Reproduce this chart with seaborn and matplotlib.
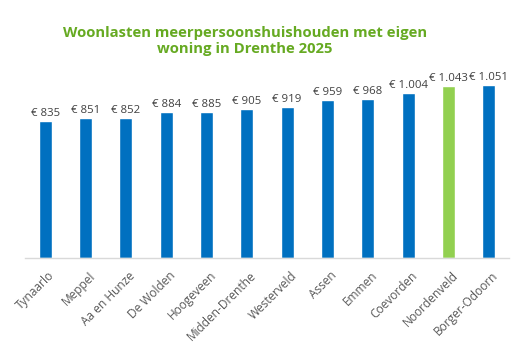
import matplotlib
matplotlib.use("Agg")
import matplotlib.pyplot as plt
import seaborn as sns
import pandas as pd
from matplotlib.transforms import ScaledTranslation

gemeenten = ["Tynaarlo", "Meppel", "Aa en Hunze", "De Wolden", "Hoogeveen",
             "Midden-Drenthe", "Westerveld", "Assen", "Emmen", "Coevorden",
             "Noordenveld", "Borger-Odoorn"]
woonlasten = [835, 851, 852, 884, 885, 905, 919, 959, 968, 1004, 1043, 1051]
highlight = "Noordenveld"

blue = "#0070C0"
green = "#92D050"
colors = [green if g == highlight else blue for g in gemeenten]

df = pd.DataFrame({"gemeente": gemeenten, "woonlasten": woonlasten})

sns.set_style("white")
plt.rcParams['font.family'] = ['Open Sans', 'DejaVu Sans']

fig = plt.figure(figsize=(5.23, 3.47), dpi=100)
ax = fig.add_axes([25/523, (347-258)/347, (509-25)/523, (258-70)/347])

sns.barplot(data=df, x="gemeente", y="woonlasten", hue="gemeente",
            palette=colors, legend=False, width=0.32, ax=ax, saturation=1)

def fmt(v):
    s = f"{v:,}".replace(",", ".")
    return f"€ {s}"

for i, v in enumerate(woonlasten):
    ax.text(i, v + 12, fmt(v), ha="center", va="bottom", fontsize=8.2,
            color="#404040")

ax.set_xlim(-0.5, len(gemeenten) - 0.5)
ax.set_ylim(0, 1142)
ax.set_yticks([])
ax.set_xlabel("")
ax.set_ylabel("")
for side in ["top", "right", "left"]:
    ax.spines[side].set_visible(False)
ax.spines["bottom"].set_color("#D9D9D9")
ax.spines["bottom"].set_linewidth(1)
ax.tick_params(axis="x", length=0, pad=8)
ax.set_xticks(range(len(gemeenten)))
ax.set_xticklabels(gemeenten, rotation=45, ha="right", rotation_mode="anchor",
                   fontsize=8.6, color="#595959")
offset = ScaledTranslation(3/100, 0, fig.dpi_scale_trans)
for lab in ax.get_xticklabels():
    lab.set_transform(lab.get_transform() + offset)

fig.text(245/523, 1 - 41/347, "Woonlasten meerpersoonshuishouden met eigen\nwoning in Drenthe 2025",
         ha="center", va="center", fontsize=10.7, fontweight="bold",
         color="#66AA22", linespacing=1.25)

fig.savefig("out.png", dpi=100)
